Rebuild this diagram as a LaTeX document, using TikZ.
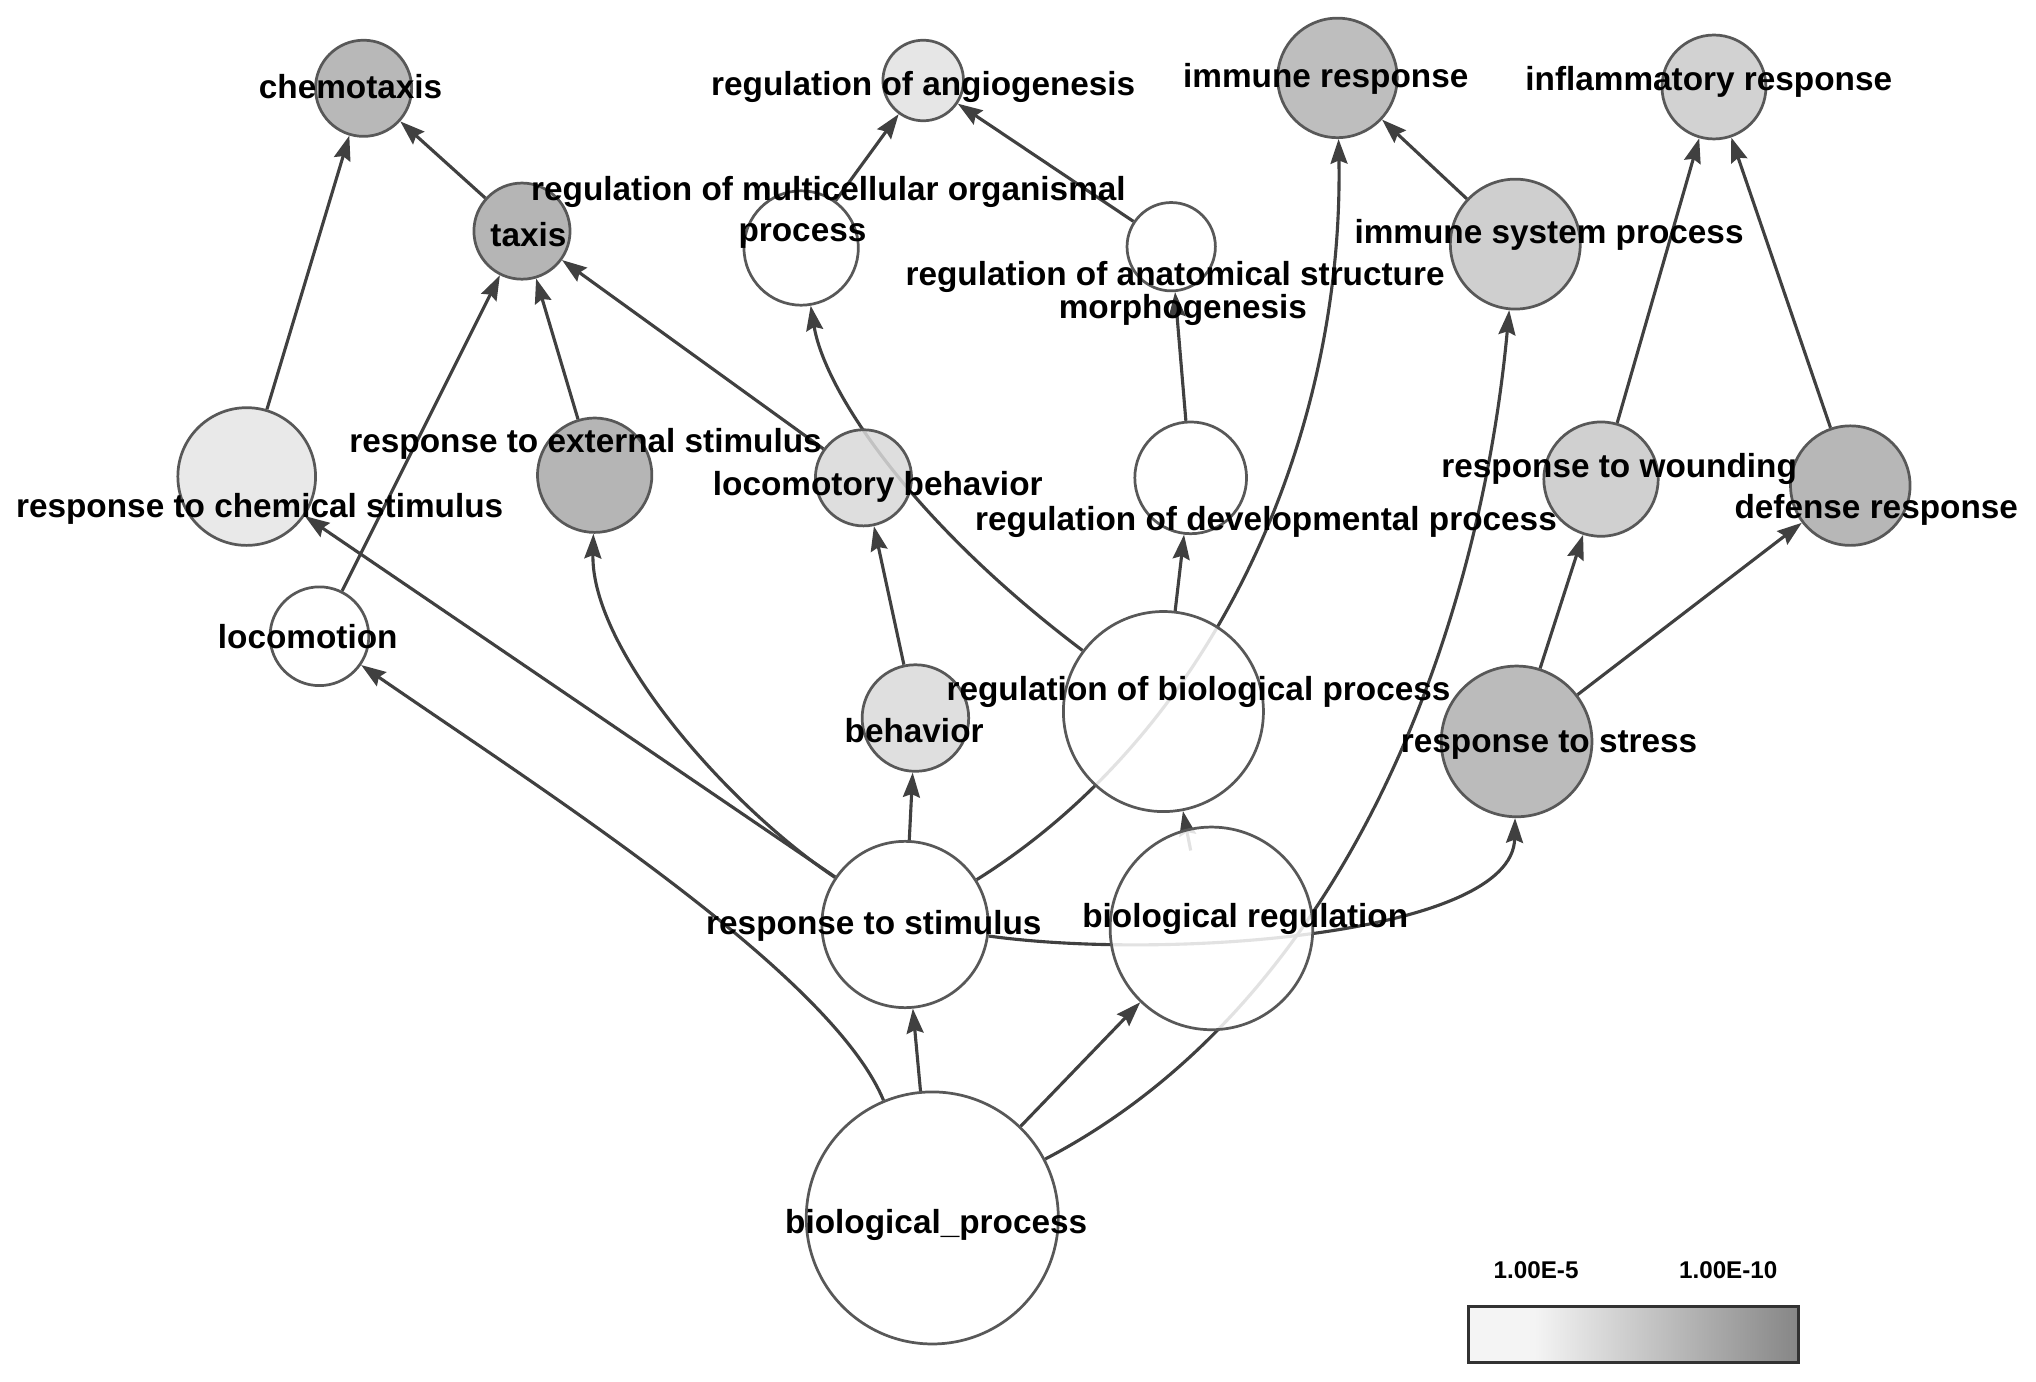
\documentclass[tikz,border=0pt]{standalone}
\usepackage{fontspec}
\setmainfont{Liberation Sans}
\usetikzlibrary{arrows.meta,shapes.geometric}
\pgfdeclarelayer{bgfill}
\pgfdeclarelayer{background}
\pgfsetlayers{bgfill,background,main}
\definecolor{edgecol}{HTML}{404040}
\definecolor{nodeborder}{HTML}{585858}
\definecolor{lgA}{HTML}{F4F4F4}
\definecolor{lgB}{HTML}{868686}
\pgfdeclarehorizontalshading{legshade}{100bp}{color(0bp)=(lgA); color(25bp)=(lgA); color(35bp)=(lgA); color(75bp)=(lgB); color(100bp)=(lgB)}
\tikzset{
  gonode/.style={circle, draw=nodeborder, line width=0.021cm, inner sep=0pt, fill opacity=0.85, minimum size=#1},
  lbl/.style={font=\bfseries\fontsize{7.3}{9}\selectfont, inner sep=0pt, text height=0.72em, text depth=0pt, anchor=center, yshift=0.03cm},
  leglbl/.style={font=\bfseries\fontsize{5.3}{6}\selectfont, inner sep=0pt, text height=0.72em, text depth=0pt, anchor=center, yshift=0.03cm},
  edge/.style={draw=edgecol, line width=0.024cm, -{Stealth[length=0.19cm,width=0.13cm,inset=0.025cm]}},
}
\begin{document}
\begin{tikzpicture}[x=0.01cm,y=-0.01cm]
\useasboundingbox (0,0) rectangle (1568,1064);
\begin{pgfonlayer}{bgfill}
\fill[white] (0,0) rectangle (1568,1064);
\end{pgfonlayer}
% nodes (circles)
\node[gonode=0.74cm, fill={rgb,255:red,172;green,172;blue,172}] (chemo) at (280,68) {};
\node[gonode=0.74cm, fill={rgb,255:red,169;green,169;blue,169}] (taxis) at (402,178) {};
\node[gonode=0.62cm, fill={rgb,255:red,226;green,226;blue,226}] (angio) at (711,62) {};
\node[gonode=0.88cm, fill=white] (regMOP) at (617,191) {};
\node[gonode=0.68cm, fill=white] (regASM) at (902,190) {};
\node[gonode=0.92cm, fill={rgb,255:red,179;green,179;blue,179}] (immresp) at (1030,60) {};
\node[gonode=0.80cm, fill={rgb,255:red,203;green,203;blue,203}] (inflam) at (1320,67) {};
\node[gonode=1.00cm, fill={rgb,255:red,199;green,199;blue,199}] (isp) at (1167,188) {};
\node[gonode=1.06cm, fill={rgb,255:red,230;green,230;blue,230}] (rcs) at (190,367) {};
\node[gonode=0.88cm, fill={rgb,255:red,169;green,169;blue,169}] (res) at (458,366) {};
\node[gonode=0.74cm, fill={rgb,255:red,217;green,217;blue,217}] (locbeh) at (665,368) {};
\node[gonode=0.86cm, fill=white] (regDP) at (917,368) {};
\node[gonode=0.88cm, fill={rgb,255:red,200;green,200;blue,200}] (wound) at (1233,369) {};
\node[gonode=0.92cm, fill={rgb,255:red,171;green,171;blue,171}] (defense) at (1425,374) {};
\node[gonode=0.76cm, fill=white] (locomotion) at (246,490) {};
\node[gonode=0.82cm, fill={rgb,255:red,218;green,218;blue,218}] (behavior) at (705,553) {};
\node[gonode=1.54cm, fill=white] (regBP) at (896,548) {};
\node[gonode=1.16cm, fill={rgb,255:red,176;green,176;blue,176}] (stress) at (1168,571) {};
\node[gonode=1.28cm, fill=white] (rts) at (697,712) {};
\node[gonode=1.56cm, fill=white] (br) at (933,715) {};
\node[gonode=1.94cm, fill=white] (bp) at (718,938) {};
\coordinate (brstub) at (917,655);
% edges (behind nodes)
\begin{pgfonlayer}{background}
\draw[edge] (taxis) -- (chemo);
\draw[edge] (rcs) -- (chemo);
\draw[edge] (locomotion) -- (taxis);
\draw[edge] (res) -- (taxis);
\draw[edge] (locbeh) -- (taxis);
\draw[edge] (regMOP) -- (angio);
\draw[edge] (regASM) -- (angio);
\draw[edge] (regDP) -- (regASM);
\draw[edge] (isp) -- (immresp);
\draw[edge] (wound) -- (inflam);
\draw[edge] (defense) -- (inflam);
\draw[edge] (stress) -- (wound);
\draw[edge] (stress) -- (defense);
\draw[edge] (regBP) -- (regDP);
\draw[edge] (regBP) .. controls (700,400) and (635,300) .. (regMOP);
\draw[edge] (rts) .. controls (940,560) and (1035,330) .. (immresp);
\draw[edge] (bp) .. controls (1040,770) and (1140,480) .. (isp);
\draw[edge] (rts) .. controls (900,740) and (1165,720) .. (stress);
\draw[edge] (rts) -- (rcs);
\draw[edge] (rts) .. controls (560,620) and (455,500) .. (res);
\draw[edge] (rts) -- (behavior);
\draw[edge] (behavior) -- (locbeh);
\draw[edge] (bp) .. controls (640,750) and (420,610) .. (locomotion);
\draw[edge] (bp) -- (rts);
\draw[edge] (bp) -- (br);
\draw[edge] (brstub) -- (regBP);
\end{pgfonlayer}
% labels
\node[lbl] (l-chemo) at (270,66) {chemotaxis};
\node[lbl] (l-taxis) at (407,180) {taxis};
\node[lbl] (l-angio) at (711,64) {regulation of angiogenesis};
\node[lbl] (l-regMOP1) at (638,145) {regulation of multicellular organismal};
\node[lbl] (l-regMOP2) at (618,176) {process};
\node[lbl] (l-regASM1) at (905,210) {regulation of anatomical structure};
\node[lbl] (l-regASM2) at (911,236) {morphogenesis};
\node[lbl] (l-immresp) at (1021,58) {immune response};
\node[lbl] (l-inflam) at (1316,60) {inflammatory response};
\node[lbl] (l-isp) at (1193,178) {immune system process};
\node[lbl] (l-rcs) at (200,389) {response to chemical stimulus};
\node[lbl] (l-res) at (451,339) {response to external stimulus};
\node[lbl] (l-locbeh) at (676,372) {locomotory behavior};
\node[lbl] (l-regDP) at (975,399) {regulation of developmental process};
\node[lbl] (l-wound) at (1247,358) {response to wounding};
\node[lbl] (l-defense) at (1445,390) {defense response};
\node[lbl] (l-locomotion) at (237,490) {locomotion};
\node[lbl] (l-behavior) at (704,562) {behavior};
\node[lbl] (l-regBP) at (923,530) {regulation of biological process};
\node[lbl] (l-stress) at (1193,570) {response to stress};
\node[lbl] (l-rts) at (673,710) {response to stimulus};
\node[lbl] (l-br) at (959,705) {biological regulation};
\node[lbl] (l-bp) at (721,940) {biological\_process};
% legend
\node[leglbl] (leg1) at (1183,975) {1.00E-5};
\node[leglbl] (leg2) at (1331,975) {1.00E-10};
\node[draw={rgb,255:red,50;green,50;blue,50}, line width=0.022cm, shading=legshade, minimum width=2.54cm, minimum height=0.43cm, inner sep=0pt] (legbar) at (1258,1027.5) {};
\end{tikzpicture}
\end{document}
